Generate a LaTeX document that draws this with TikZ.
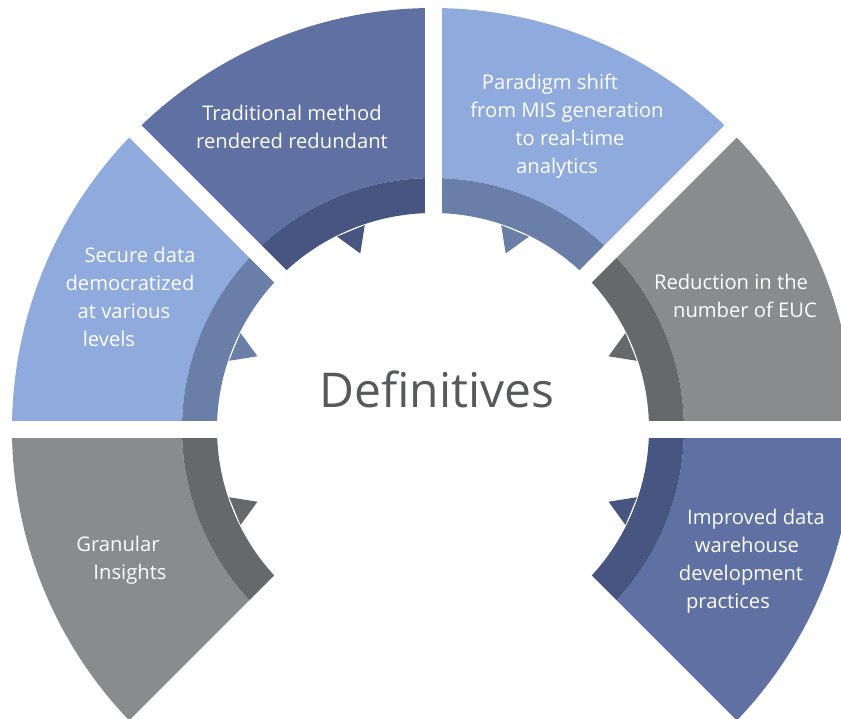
\documentclass[tikz,border=0pt]{standalone}
\usepackage{fontspec}
\setmainfont{Open Sans}
\usepackage{tikz}
\definecolor{slateblue}{RGB}{95,113,163}
\definecolor{slatedark}{RGB}{70,86,128}
\definecolor{skyblue}{RGB}{143,170,220}
\definecolor{skydark}{RGB}{106,127,168}
\definecolor{midgray}{RGB}{138,139,141}
\definecolor{darkgray}{RGB}{103,104,106}
\definecolor{titlegray}{RGB}{88,89,91}

\begin{document}
\begin{tikzpicture}[x=0.02cm,y=0.02cm,
    gap/.style={white,line width=0.34cm},
    label/.style={text=white,align=center,font=\fontsize{11.5}{15.9}\selectfont}]
    \useasboundingbox (-433,-289) rectangle (408,429);
    \clip (-433,-289) rectangle (408,429);

    \fill[slateblue] (90:421) arc[start angle=90,end angle=135,radius=421] -- (135:251) arc[start angle=135,end angle=90,radius=251] -- cycle;% Traditional
    \fill[slatedark] (90:251) arc[start angle=90,end angle=135,radius=251] -- (135:216) arc[start angle=135,end angle=90,radius=216] -- cycle;
    \fill[slatedark] (108.5:215) -- (112.5:190) -- (116.5:215) -- cycle;% tooth

    \fill[skyblue] (135:421) arc[start angle=135,end angle=180,radius=421] -- (180:251) arc[start angle=180,end angle=135,radius=251] -- cycle;% Secure data
    \fill[skydark] (135:251) arc[start angle=135,end angle=180,radius=251] -- (180:216) arc[start angle=180,end angle=135,radius=216] -- cycle;
    \fill[skydark] (153.5:215) -- (157.5:190) -- (161.5:215) -- cycle;% tooth

    \fill[midgray] (180:421) arc[start angle=180,end angle=225,radius=421] -- (225:251) arc[start angle=225,end angle=180,radius=251] -- cycle;% Granular
    \fill[darkgray] (180:251) arc[start angle=180,end angle=225,radius=251] -- (225:216) arc[start angle=225,end angle=180,radius=216] -- cycle;
    \fill[darkgray] (198.5:215) -- (202.5:190) -- (206.5:215) -- cycle;% tooth

    \fill[skyblue] (45:421) arc[start angle=45,end angle=90,radius=421] -- (90:251) arc[start angle=90,end angle=45,radius=251] -- cycle;% Paradigm shift
    \fill[skydark] (45:251) arc[start angle=45,end angle=90,radius=251] -- (90:216) arc[start angle=90,end angle=45,radius=216] -- cycle;
    \fill[skydark] (63.5:215) -- (67.5:190) -- (71.5:215) -- cycle;% tooth

    \fill[midgray] (0:421) arc[start angle=0,end angle=45,radius=421] -- (45:251) arc[start angle=45,end angle=0,radius=251] -- cycle;% Reduction
    \fill[darkgray] (0:251) arc[start angle=0,end angle=45,radius=251] -- (45:216) arc[start angle=45,end angle=0,radius=216] -- cycle;
    \fill[darkgray] (18.5:215) -- (22.5:190) -- (26.5:215) -- cycle;% tooth

    \fill[slateblue] (-45:421) arc[start angle=-45,end angle=0,radius=421] -- (0:251) arc[start angle=0,end angle=-45,radius=251] -- cycle;% Improved
    \fill[slatedark] (-45:251) arc[start angle=-45,end angle=0,radius=251] -- (0:216) arc[start angle=0,end angle=-45,radius=216] -- cycle;
    \fill[slatedark] (-26.5:215) -- (-22.5:190) -- (-18.5:215) -- cycle;% tooth

    \draw[gap] (0,0) -- (90:480);% gaps between segments
    \draw[gap] (0,0) -- (135:480);
    \draw[gap] (0,0) -- (180:480);
    \draw[gap] (0,0) -- (225:480);
    \draw[gap] (0,0) -- (45:480);
    \draw[gap] (0,0) -- (0:480);
    \draw[gap] (0,0) -- (-45:480);

    \node[label] (trad) at (-141,302) {Traditional method\\rendered redundant};
    \node[label] (shift) at (128,303) {Paradigm shift\hspace*{4.4mm}\\\hspace*{2.4mm}from MIS generation\\\hspace*{3.6mm}to real-time\\analytics\hspace*{1.6mm}};
    \node[label] (secure) at (-309,132) {\hspace*{6.4mm}Secure data\\\hspace*{2.4mm}democratized\\at various\hspace*{2.4mm}\\levels\hspace*{6mm}};
    \node[label] (euc) at (305,133) {Reduction in the\hspace*{2.8mm}\\\hspace*{2.8mm}number of EUC};
    \node[label] (granular) at (-309,-131) {Granular\hspace*{2.4mm}\\\hspace*{2.4mm}Insights};
    \node[label] (warehouse) at (308,-132) {\hspace*{6mm}Improved data\\\hspace*{2.4mm}warehouse\\development\hspace*{3.2mm}\\practices\hspace*{5.2mm}};

    \node[anchor=base,text=titlegray,font=\fontsize{27.3}{32}\selectfont] (title) at (4,22) {Definitives};
\end{tikzpicture}
\end{document}
